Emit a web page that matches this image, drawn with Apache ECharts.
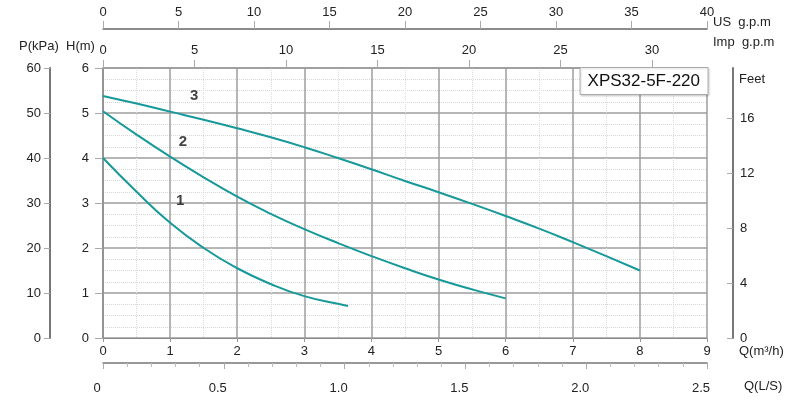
<!DOCTYPE html>
<html>
<head>
<meta charset="utf-8">
<script src="https://cdn.jsdelivr.net/npm/echarts@6/dist/echarts.min.js"></script>
<style>html,body{margin:0;padding:0;background:#fff}#c{width:800px;height:400px}</style>
</head>
<body>
<div id="c"></div>
<script>
// ---- data ----
const flow1 = [0, 0.5, 1, 1.5, 2, 2.5, 3, 3.5, 3.65];
const head1 = [4.0, 3.25, 2.56, 2.0, 1.55, 1.2, 0.93, 0.76, 0.71];
const flow2 = [0, 0.5, 1, 1.5, 2, 2.5, 3, 3.5, 4, 4.5, 5, 5.5, 6];
const head2 = [5.04, 4.52, 4.03, 3.57, 3.14, 2.76, 2.42, 2.11, 1.82, 1.55, 1.30, 1.08, 0.88];
const flow3 = [0, 0.5, 1, 1.5, 2, 2.5, 3, 3.5, 4, 4.5, 5, 5.5, 6, 6.5, 7, 7.5, 8];
const head3 = [5.38, 5.21, 5.03, 4.85, 4.66, 4.46, 4.24, 4.0, 3.75, 3.49, 3.24, 2.98, 2.71, 2.43, 2.13, 1.82, 1.5];
const curveNames = ['1', '2', '3'];
const curveLabelPos = [[1.15, 3.05], [1.19, 4.36], [1.36, 5.38]];
const modelName = 'XPS32-5F-220';
const impTicks = [0, 5, 10, 15, 20, 25, 30];
const feetTicks = [0, 4, 8, 12, 16];

const teal = '#17999a';
const font = 'Liberation Sans, Arial, sans-serif';
const lbl = {color: '#222', fontSize: 13, fontFamily: font};

const chart = echarts.init(document.getElementById('c'));
const zip = (a, b) => a.map((v, i) => [v, b[i]]);

chart.setOption({
  animation: false,
  backgroundColor: '#fff',
  title: {
    text: modelName, right: 92, top: 67,
    padding: [6, 8, 5, 8],
    borderColor: '#aaa', borderWidth: 1, backgroundColor: '#fff',
    shadowColor: 'rgba(0,0,0,0.15)', shadowOffsetX: 1, shadowOffsetY: 1, shadowBlur: 2,
    textStyle: {fontSize: 17, fontWeight: 'normal', color: '#111', fontFamily: font}
  },
  grid: {left: 103, right: 93, top: 68, bottom: 62},
  xAxis: [
    { // Q m3/h
      type: 'value', min: 0, max: 9, interval: 1, position: 'bottom',
      axisLine: {show: true, onZero: false, lineStyle: {color: '#888', width: 1}},
      axisTick: {show: true, length: 4, lineStyle: {color: '#999'}},
      axisLabel: Object.assign({margin: 7}, lbl),
      splitLine: {show: true, lineStyle: {color: '#9e9e9e', width: 1.5}},
      minorTick: {show: false, splitNumber: 2},
      minorSplitLine: {show: true, lineStyle: {color: '#dcdcdc', width: 1, type: 'dotted'}}
    },
    { // Q L/S
      type: 'value', min: 0, max: 2.5, interval: 0.5, position: 'bottom', offset: 25,
      axisLine: {show: true, onZero: false, lineStyle: {color: '#777', width: 1.5}},
      axisTick: {show: true, length: 6, lineStyle: {color: '#aaa'}},
      minorTick: {show: true, splitNumber: 5, length: 4, lineStyle: {color: '#bbb'}},
      axisLabel: Object.assign({margin: 19, padding: [0, 12, 0, 0],
        formatter: v => v === 0 ? '0' : v.toFixed(1)}, lbl),
      splitLine: {show: false}
    },
    { // US gpm
      type: 'value', min: 0, max: 40, interval: 5, position: 'top', offset: 39,
      axisLine: {show: true, onZero: false, lineStyle: {color: '#666', width: 1.5}},
      axisTick: {show: true, length: 8, lineStyle: {color: '#aaa'}},
      axisLabel: Object.assign({margin: 10}, lbl),
      splitLine: {show: false}
    },
    { // Imp gpm
      type: 'value', min: 0, max: 33, position: 'top', offset: 0,
      axisLine: {show: true, onZero: false, lineStyle: {color: '#999', width: 1.5}},
      axisTick: {show: true, length: 8, customValues: impTicks, lineStyle: {color: '#aaa'}},
      axisLabel: Object.assign({margin: 11, customValues: impTicks}, lbl),
      splitLine: {show: false}
    }
  ],
  yAxis: [
    { // H m
      type: 'value', min: 0, max: 6, interval: 1, position: 'left',
      axisLine: {show: true, onZero: false, lineStyle: {color: '#888', width: 1.5}},
      axisTick: {show: true, length: 8, lineStyle: {color: '#aaa'}},
      axisLabel: Object.assign({margin: 14}, lbl),
      splitLine: {show: true, lineStyle: {color: '#9e9e9e', width: 1.5}},
      minorTick: {show: false, splitNumber: 4},
      minorSplitLine: {show: true, lineStyle: {color: '#d6d6d6', width: 1, type: 'dotted'}}
    },
    { // P kPa
      type: 'value', min: 0, max: 60, interval: 10, position: 'left', offset: 53,
      axisLine: {show: true, onZero: false, lineStyle: {color: '#777', width: 2}},
      axisTick: {show: true, length: 6, lineStyle: {color: '#aaa'}},
      axisLabel: Object.assign({margin: 9}, lbl),
      splitLine: {show: false}
    },
    { // Feet
      type: 'value', min: 0, max: 19.685, position: 'right', offset: 26,
      axisLine: {show: true, onZero: false, lineStyle: {color: '#777', width: 2}},
      axisTick: {show: true, inside: true, length: 6, customValues: feetTicks, lineStyle: {color: '#aaa'}},
      axisLabel: Object.assign({margin: 7, customValues: feetTicks}, lbl),
      splitLine: {show: false}
    }
  ],
  graphic: [
    {type: 'text', left: 19, top: 40, style: {text: 'P(kPa)', fill: '#222', font: '13px ' + font}},
    {type: 'text', left: 66, top: 40, style: {text: 'H(m)', fill: '#222', font: '13px ' + font}},
    {type: 'text', left: 713, top: 16, style: {text: 'US  g.p.m', fill: '#222', font: '13px ' + font}},
    {type: 'text', left: 713, top: 36, style: {text: 'Imp  g.p.m', fill: '#222', font: '13px ' + font}},
    {type: 'text', left: 739, top: 73, style: {text: 'Feet', fill: '#222', font: '13px ' + font}},
    {type: 'text', left: 739, top: 345, style: {text: 'Q(m³/h)', fill: '#222', font: '13px ' + font}},
    {type: 'text', left: 744, top: 380, style: {text: 'Q(L/S)', fill: '#222', font: '13px ' + font}}
  ],
  series: [
    {type: 'line', xAxisIndex: 0, yAxisIndex: 0, data: zip(flow1, head1), smooth: 0.5, showSymbol: false,
     lineStyle: {color: teal, width: 2}},
    {type: 'line', xAxisIndex: 0, yAxisIndex: 0, data: zip(flow2, head2), smooth: 0.5, showSymbol: false,
     lineStyle: {color: teal, width: 2}},
    {type: 'line', xAxisIndex: 0, yAxisIndex: 0, data: zip(flow3, head3), smooth: 0.5, showSymbol: false,
     lineStyle: {color: teal, width: 2}},
    {type: 'scatter', xAxisIndex: 0, yAxisIndex: 0, symbolSize: 1, itemStyle: {color: 'transparent'},
     data: curveLabelPos.map((p, i) => ({value: p, name: curveNames[i]})),
     label: {show: true, position: 'inside', formatter: p => p.name,
       fontSize: 15, fontWeight: 'bold', color: '#111', fontFamily: font}}
  ]
});
</script>
</body>
</html>
